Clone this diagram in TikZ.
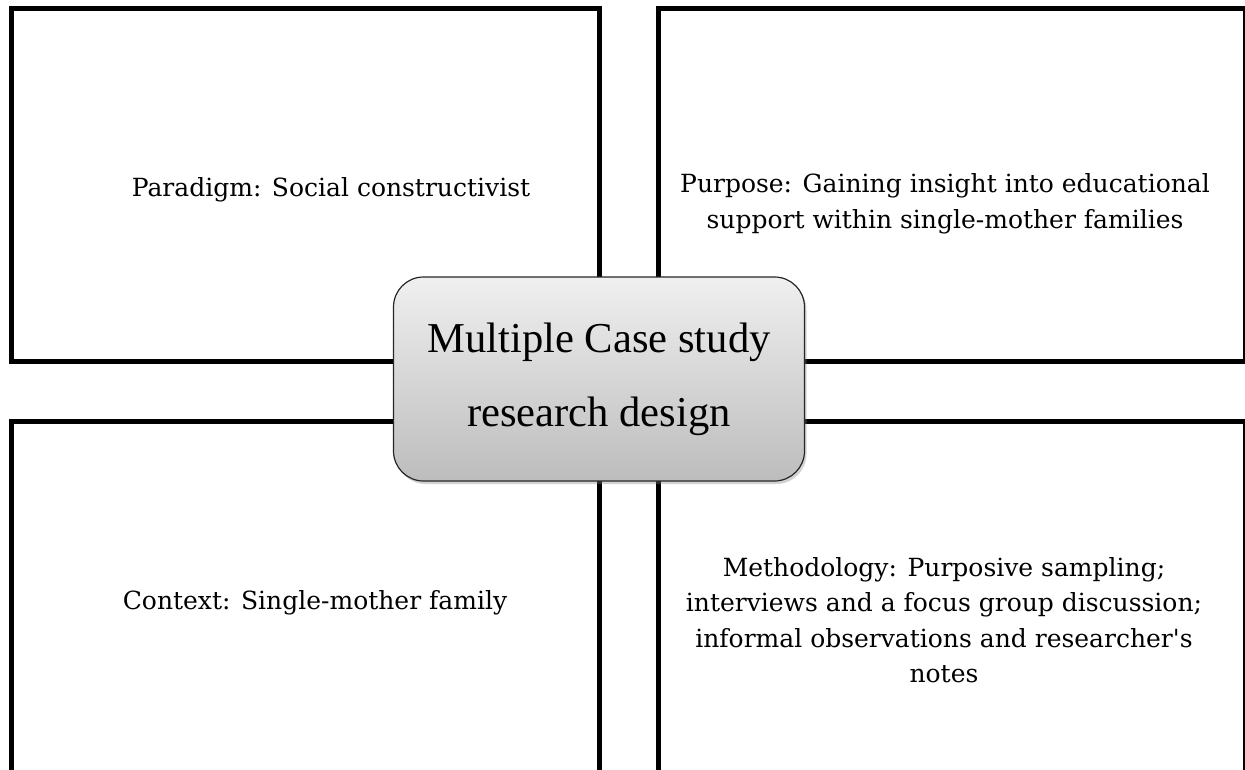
\documentclass[tikz,border=0pt]{standalone}
\usepackage{fontspec}
\setmainfont{DejaVu Serif}
\newfontfamily\quadfont{DejaVu Serif}[Ligatures=TeXOff]
\newfontfamily\hubfont{Liberation Serif}
\usetikzlibrary{shadows}

\begin{document}
\begin{tikzpicture}[x=1pt,y=-1pt,
  quad/.style={draw=black,line width=5pt},
  quadtext/.style={align=center,inner sep=0pt,font=\quadfont\fontsize{25}{35.5}\selectfont},
  hub/.style={draw=black!85,line width=1.2pt,rounded corners=30pt,
    top color=gray!12,bottom color=gray!52,
    minimum width=411pt,minimum height=204pt,align=center,
    font=\hubfont\fontsize{42.6}{74}\selectfont,
    drop shadow={shadow xshift=2pt,shadow yshift=-3pt,opacity=0.35}}]
\useasboundingbox (0,0) rectangle (1245,770);
\clip (0,0) rectangle (1245,770);
% the four quadrants
\draw[quad] (11,9) rectangle (599,361);
\draw[quad] (658.5,9) rectangle (1245.5,361);
\draw[quad] (11,421) rectangle (599,800);
\draw[quad] (658.5,421) rectangle (1245.5,800);
\node[quadtext] (paradigm) at (331,190) {Paradigm: Social constructivist};
\node[quadtext] (purpose) at (945,204) {Purpose: Gaining insight into educational\\support within single-mother families};
\node[quadtext] (context) at (315,603) {Context: Single-mother family};
\node[quadtext] (method) at (944,620) {Methodology: Purposive sampling;\\interviews and a focus group discussion;\\informal observations and researcher's\\notes};
% centre
\node[hub] (design) at (599,379) {Multiple Case study\\research design};
\end{tikzpicture}
\end{document}
